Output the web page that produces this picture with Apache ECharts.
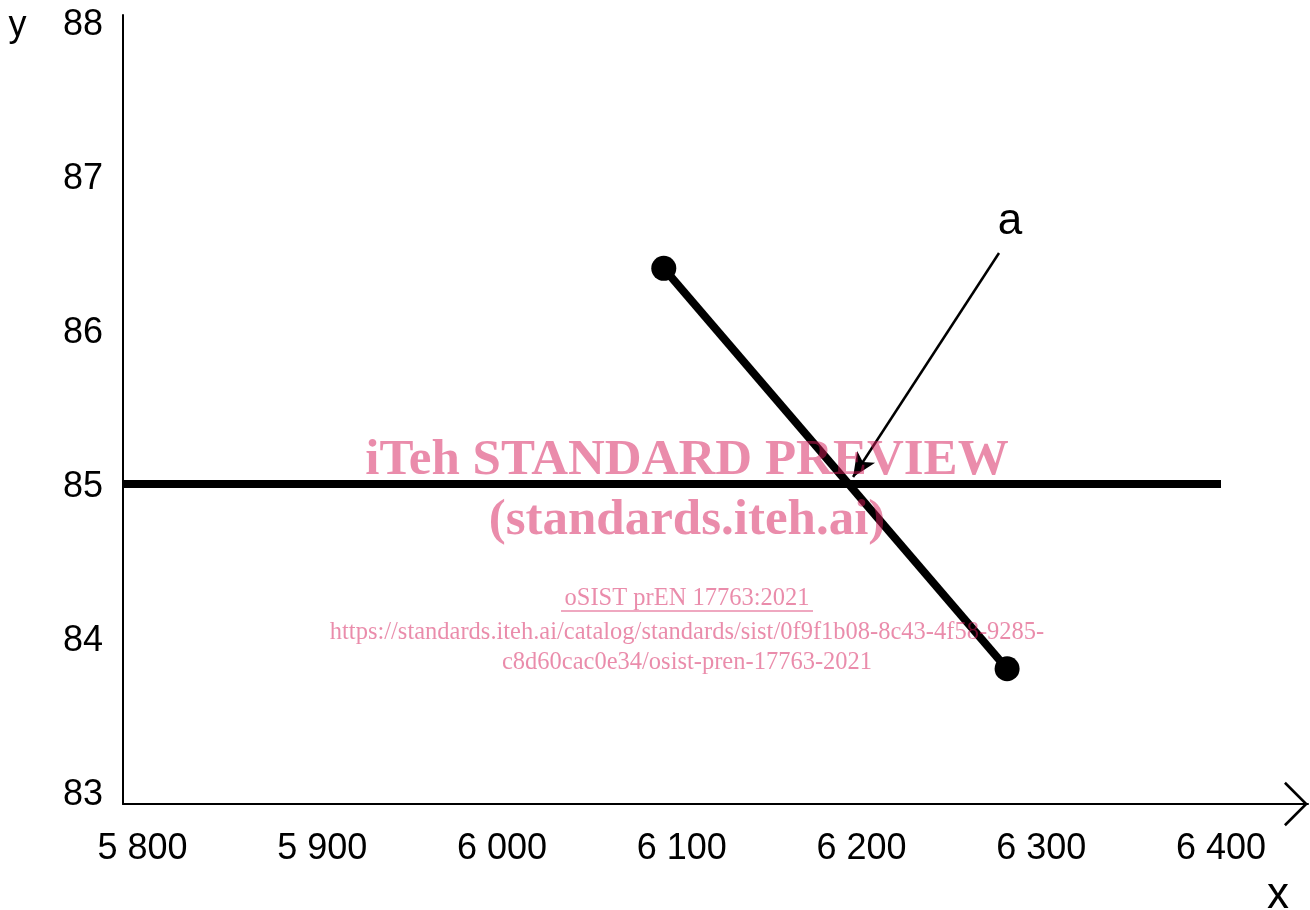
<!DOCTYPE html>
<html>
<head>
<meta charset="utf-8">
<script src="https://cdn.jsdelivr.net/npm/echarts@6/dist/echarts.min.js"></script>
<style>
html,body{margin:0;padding:0;background:#fff;}
#chart{width:1310px;height:910px;}
</style>
</head>
<body>
<div id="chart"></div>
<script>
// ---- data ----
const xTicks = [5800, 5900, 6000, 6100, 6200, 6300, 6400];
const yTicks = [83, 84, 85, 86, 87, 88];
const xRange = [5789.15, 6448.4];
const yRange = [82.922, 88.045];
const levelY = 85;
const levelEndX = 6400;
const segmentPoints = [[6090, 86.4], [6281, 83.8]];
const annotLabel = 'a';
const annotFrom = [6276.5, 86.5];
const annotTo = [6195.3, 85.045];
const annotTextAt = [6282.6, 86.70];
const axisNameX = 'x';
const axisNameY = 'y';
const watermarkTitle = ['iTeh STANDARD PREVIEW', '(standards.iteh.ai)'];
const watermarkRef = 'oSIST prEN 17763:2021';
const watermarkUrl = ['https://standards.iteh.ai/catalog/standards/sist/0f9f1b08-8c43-4f58-9285-', 'c8d60cac0e34/osist-pren-17763-2021'];

const sans = "'Liberation Sans', Arial, sans-serif";
const serif = "'Liberation Serif', 'Times New Roman', serif";
const wmColor = 'rgba(214,26,88,0.5)';
const fmt = v => String(v).replace(/\B(?=(\d{3})+(?!\d))/g, ' ');

const chart = echarts.init(document.getElementById('chart'), null, {renderer: 'canvas'});
chart.setOption({
  animation: false,
  backgroundColor: '#fff',
  grid: {left: 123, top: 15, width: 1185, height: 789, outerBoundsMode: 'none', containLabel: false},
  xAxis: {
    type: 'value', min: xRange[0], max: xRange[1],
    axisLine: {show: true, onZero: false, lineStyle: {color: '#000', width: 2},
      symbol: ['none', 'path://M0,24 L24,0 L48,24 L46,26 L24,4 L2,26 Z'],
      symbolSize: [48, 24], symbolOffset: [0, -12]},
    axisTick: {show: false},
    splitLine: {show: false},
    axisLabel: {customValues: xTicks, formatter: fmt, color: '#000', fontSize: 36, fontFamily: sans, margin: 27}
  },
  yAxis: {
    type: 'value', min: yRange[0], max: yRange[1],
    axisLine: {show: true, onZero: false, lineStyle: {color: '#000', width: 2}},
    axisTick: {show: false},
    splitLine: {show: false},
    axisLabel: {customValues: yTicks, color: '#000', fontSize: 36, fontFamily: sans, margin: 20, verticalAlign: 'top', lineHeight: 6}
  },
  series: [
    {
      type: 'line', symbol: 'none', silent: true,
      data: [[xRange[0], levelY], [levelEndX, levelY]],
      lineStyle: {color: '#000', width: 8}
    },
    {
      type: 'line', symbol: 'circle', symbolSize: 25, silent: true,
      data: segmentPoints,
      itemStyle: {color: '#000'},
      lineStyle: {color: '#000', width: 8},
      markLine: {
        silent: true, animation: false,
        symbol: ['none', 'arrow'], symbolSize: [16, 24],
        label: {show: false},
        lineStyle: {color: '#000', width: 2.5, type: 'solid'},
        data: [[{coord: annotFrom}, {coord: annotTo}]]
      }
    },
    {
      type: 'scatter', symbolSize: 0, silent: true,
      data: [annotTextAt],
      itemStyle: {color: '#000', opacity: 1},
      label: {show: true, position: 'inside', formatter: annotLabel, color: '#000', fontSize: 44, fontFamily: sans, textBorderWidth: 0}
    }
  ],
  graphic: [
    {type: 'text', x: 17.5, y: 26, z: 100, style: {text: axisNameY, font: '36px ' + sans, fill: '#000', align: 'center', verticalAlign: 'middle'}},
    {type: 'text', x: 1278, y: 896, z: 100, style: {text: axisNameX, font: '44px ' + sans, fill: '#000', align: 'center', verticalAlign: 'middle'}},
    {type: 'text', x: 687, y: 460.5, z: 200, style: {text: watermarkTitle[0], font: 'bold 51px ' + serif, fill: wmColor, align: 'center', verticalAlign: 'middle'}},
    {type: 'text', x: 687, y: 521, z: 200, style: {text: watermarkTitle[1], font: 'bold 51px ' + serif, fill: wmColor, align: 'center', verticalAlign: 'middle'}},
    {type: 'text', x: 687, y: 599, z: 200, style: {text: watermarkRef, font: '24.5px ' + serif, fill: wmColor, align: 'center', verticalAlign: 'middle'}},
    {type: 'line', z: 200, shape: {x1: 561, y1: 611, x2: 813, y2: 611}, style: {stroke: wmColor, lineWidth: 1.5}},
    {type: 'text', x: 687, y: 633, z: 200, style: {text: watermarkUrl[0], font: '24.5px ' + serif, fill: wmColor, align: 'center', verticalAlign: 'middle'}},
    {type: 'text', x: 687, y: 663, z: 200, style: {text: watermarkUrl[1], font: '24.5px ' + serif, fill: wmColor, align: 'center', verticalAlign: 'middle'}}
  ]
});
</script>
</body>
</html>
